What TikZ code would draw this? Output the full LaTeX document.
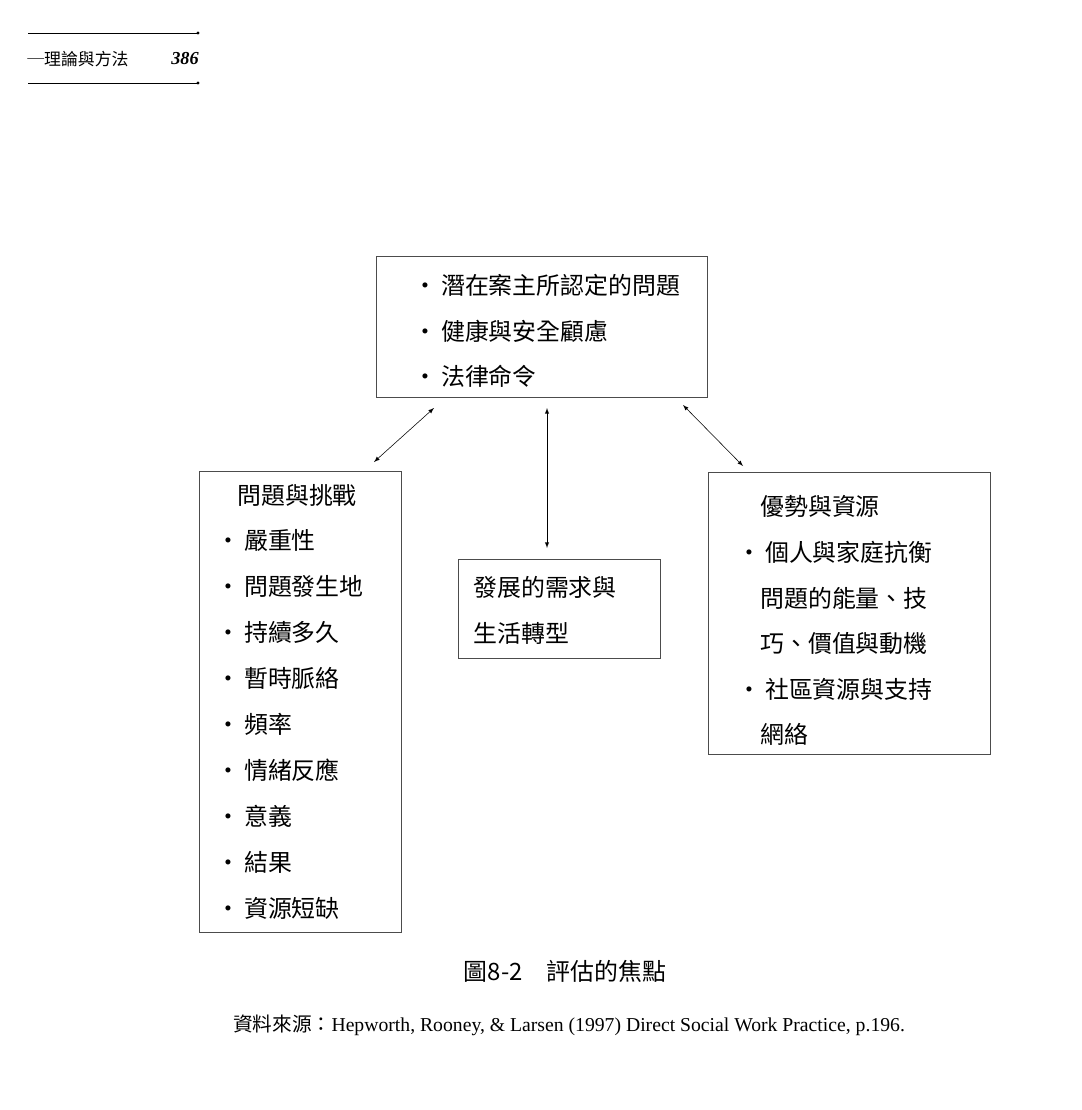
\documentclass[tikz,border=0pt]{standalone}
\usepackage{fontspec}
\setmainfont{Liberation Serif}
\newfontfamily\cjk{Noto Sans CJK TC}
\usetikzlibrary{arrows,positioning}

\tikzset{
  box/.style={draw=black!70, thin, anchor=north west, inner sep=0pt},
  txt/.style={anchor=west, inner sep=0pt, font=\cjk\fontsize{17}{20}\selectfont},
  link/.style={<->, >=latex, thin}
}

\begin{document}
\begin{tikzpicture}[x=0.025cm,y=-0.025cm]
  \useasboundingbox (0,0) rectangle (1082,1110);

  % header
  \draw [thin] (28,33) -- (198,33); \fill (198,33) circle (1.6);
  \draw [thin] (28,83) -- (198,83); \fill (198,83) circle (1.6);
  \node [anchor=west, inner sep=0pt, font=\cjk\fontsize{12}{14}\selectfont] (head) at (27,59) {─理論與方法};
  \node [anchor=east, inner sep=0pt, font=\bfseries\itshape\fontsize{13}{14}\selectfont] (page) at (199,59) {386};

  % boxes
  \node [box, minimum width=331*0.025cm, minimum height=141*0.025cm] (top) at (376,256) {};
  \node [box, minimum width=202*0.025cm, minimum height=461*0.025cm] (left) at (199,471) {};
  \node [box, minimum width=202*0.025cm, minimum height=99*0.025cm] (mid) at (458,559) {};
  \node [box, minimum width=282*0.025cm, minimum height=282*0.025cm] (right) at (708,472) {};

  % texts
  \foreach \t [count=\i] in {潛在案主所認定的問題, 健康與安全顧慮, 法律命令}
    \node [txt] (top\i) at (413,240+45.5*\i) {‧\,\t};

  \node [txt] (left0) at (237,495) {問題與挑戰};
  \foreach \t [count=\i] in {嚴重性, 問題發生地, 持續多久, 暫時脈絡, 頻率, 情緒反應, 意義, 結果, 資源短缺}
    \node [txt] (left\i) at (216,495+45.9*\i) {‧\,\t};

  \node [txt] (mid1) at (473,587) {發展的需求與};
  \node [txt] (mid2) at (473,633) {生活轉型};

  \node [txt] (right0) at (760,506) {優勢與資源};
  \node [txt] (right1) at (737,552) {‧\,個人與家庭抗衡};
  \node [txt] (right2) at (760,598) {問題的能量、技};
  \node [txt] (right3) at (760,643) {巧、價值與動機};
  \node [txt] (right4) at (737,689) {‧\,社區資源與支持};
  \node [txt] (right5) at (760,734) {網絡};

  % connectors
  \coordinate (a1) at (434,408); \coordinate (a2) at (374,462);
  \coordinate (b1) at (547,408); \coordinate (b2) at (547,548);
  \coordinate (c1) at (683,405); \coordinate (c2) at (743,466);
  \draw [link] (a1) -- (a2);
  \draw [link] (b1) -- (b2);
  \draw [link] (c1) -- (c2);

  % caption
  \node [inner sep=0pt, font=\cjk\fontsize{17}{20}\selectfont] (cap) at (565,971) {圖8-2\quad 評估的焦點};
  \node [inner sep=0pt, font=\fontsize{14}{16}\selectfont] (src) at (569,1025) {{\cjk 資料來源：}Hepworth, Rooney, \& Larsen (1997) Direct Social Work Practice, p.196.};
\end{tikzpicture}
\end{document}
